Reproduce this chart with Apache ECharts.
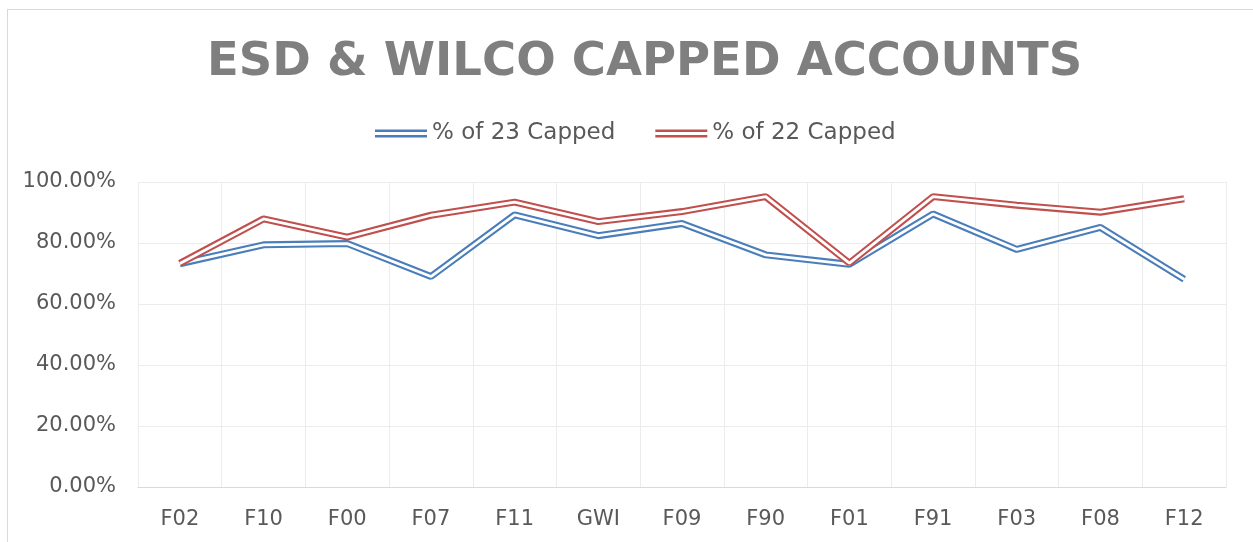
<!DOCTYPE html>
<html>
<head>
<meta charset="utf-8">
<script src="https://cdn.jsdelivr.net/npm/echarts@6/dist/echarts.min.js"></script>
<style>
  html, body { margin: 0; padding: 0; background: #fff; overflow: hidden; }
  #frame { position: absolute; left: 7px; top: 9px; width: 1300px; height: 600px; border: 1px solid #d9d9d9; }
  #chart_container { position: absolute; left: 0; top: 0; width: 1253px; height: 542px; }
</style>
</head>
<body>
<div id="frame"></div>
<div id="chart_container"></div>
<script>
// data (percent)
var categories = ['F02', 'F10', 'F00', 'F07', 'F11', 'GWI', 'F09', 'F90', 'F01', 'F91', 'F03', 'F08', 'F12'];
var capped23 = [73.2, 79.4, 79.8, 69.0, 89.2, 82.4, 86.4, 76.1, 73.0, 89.5, 77.9, 85.1, 68.1];
var capped22 = [73.3, 87.9, 81.9, 89.1, 93.4, 87.0, 90.3, 95.2, 73.4, 95.2, 92.4, 90.1, 94.5];
var yTicks = [0, 20, 40, 60, 80, 100];

var blue = '#4a7ebb', red = '#c0504d';
var font = 'DejaVu Sans';
var dbl = 'path://M0,0H52V2.4H0Z M0,5.4H52V7.8H0Z';

var chart = echarts.init(document.getElementById('chart_container'));

// double line: thick coloured stroke with a thinner white stroke on top
function doubleLine(name, data, color) {
    return [{
        name: name, type: 'line', data: data, symbol: 'none', silent: true,
        lineStyle: { color: color, width: 7 }, itemStyle: { color: color }
    }, {
        name: name + ' ', type: 'line', data: data, symbol: 'none', silent: true,
        lineStyle: { color: '#ffffff', width: 2.8 }, itemStyle: { color: '#fff' }
    }];
}

var option = {
    animation: false,
    title: {
        text: 'ESD & WILCO CAPPED ACCOUNTS',
        left: 202, top: 34,
        textStyle: { fontFamily: font, fontWeight: 'bold', fontSize: 46.5, color: '#7f7f7f' }
    },
    legend: {
        data: ['% of 23 Capped', '% of 22 Capped'],
        top: 117, left: 370,
        icon: dbl, itemWidth: 52, itemHeight: 8, itemGap: 40,
        textStyle: { fontFamily: font, fontSize: 23, color: '#595959' }
    },
    grid: { left: 138, right: 27, top: 182, bottom: 55, containLabel: false },
    xAxis: {
        type: 'category', data: categories, boundaryGap: true,
        axisTick: { show: false },
        axisLine: { lineStyle: { color: '#d9d9d9' } },
        splitLine: { show: true, lineStyle: { color: '#ececec' } },
        axisLabel: { fontFamily: font, fontSize: 21, color: '#595959', margin: 22 }
    },
    yAxis: {
        type: 'value', min: yTicks[0], max: yTicks[yTicks.length - 1], interval: 20,
        axisLine: { show: false }, axisTick: { show: false },
        splitLine: { lineStyle: { color: '#ececec' } },
        axisLabel: {
            fontFamily: font, fontSize: 21, color: '#595959', margin: 22,
            formatter: function (v) { return v.toFixed(2) + '%'; }
        }
    },
    series: [].concat(doubleLine('% of 23 Capped', capped23, blue), doubleLine('% of 22 Capped', capped22, red))
};
chart.setOption(option);
</script>
</body>
</html>
